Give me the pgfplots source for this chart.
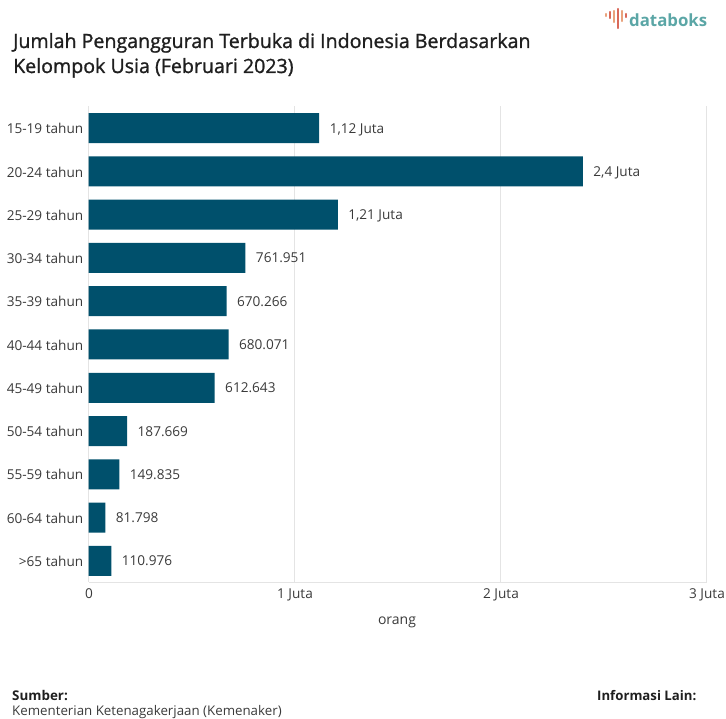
\documentclass[border=0pt]{standalone}
\usepackage{pgfplots}
\usepackage{pgfplotstable}
\usepackage{fontspec}
\pgfplotsset{compat=1.18}
\setmainfont{Open Sans}
\newfontfamily\headfont[FakeBold=1.2]{Open Sans}
\definecolor{barblue}{HTML}{00506C}
\definecolor{txtgray}{HTML}{3A3A3A}
\definecolor{gridgray}{HTML}{E4E4E4}
\definecolor{logoteal}{HTML}{5BA6A6}
\definecolor{logored}{HTML}{D9695A}
\definecolor{logoorange}{HTML}{E9A27C}

% Unemployed persons by age group, February 2023 (millions)
\pgfplotstableread[col sep=comma]{
idx,value,label
0,1.12,{1,12 Juta}
1,2.40,{2,4 Juta}
2,1.21,{1,21 Juta}
3,0.761951,761.951
4,0.670266,670.266
5,0.680071,680.071
6,0.612643,612.643
7,0.187669,187.669
8,0.149835,149.835
9,0.081798,81.798
10,0.110976,110.976
}\agegroups

\begin{document}
\begin{tikzpicture}[x=1pt,y=1pt]
\path[use as bounding box] (0,0) rectangle (726,719);

\begin{axis}[
  at={(88.5pt,136.5pt)}, anchor=south west,
  scale only axis, width=618pt, height=476pt,
  xmin=0, xmax=3,
  ymin=-0.5, ymax=10.5, y dir=reverse,
  xbar, bar width=30pt, bar shift=0pt,
  axis line style={draw=none},
  axis x line*=bottom,
  axis y line*=left,
  extra description/.code={\draw[gridgray,line width=0.8pt] (axis cs:0,10.5) -- (axis cs:3,10.5);},
  xmajorgrids, major grid style={gridgray,line width=0.8pt},
  tick style={draw=none},
  xtick={0,1,2,3},
  xticklabels={0,1 Juta,2 Juta,3 Juta},
  ytick={0,...,10},
  yticklabels={15-19 tahun,20-24 tahun,25-29 tahun,30-34 tahun,35-39 tahun,40-44 tahun,45-49 tahun,50-54 tahun,55-59 tahun,60-64 tahun,>65 tahun},
  tick label style={font=\fontsize{13.6}{16}\selectfont,text=txtgray},
  yticklabel style={xshift=2.5pt,yshift=-0.5pt},
  xticklabel style={yshift=-2.5pt,xshift=0.5pt},
  clip=false,
  nodes near coords,
  point meta=explicit symbolic,
  nodes near coords style={font=\fontsize{13.6}{16}\selectfont,text=txtgray,anchor=west,xshift=7pt,yshift=-1.5pt,text height=10pt,text depth=3pt},
]
\addplot[fill=barblue,draw=none] table[x=value,y=idx,meta=label,col sep=comma] {\agegroups};
\end{axis}

\node[anchor=base,font=\fontsize{14}{16}\selectfont,text=txtgray] at (397,94) {orang};

% Heading
\node[anchor=base west,inner sep=0pt,font=\headfont\fontsize{19.6}{22}\selectfont,text=black!88] at (13,671) {Jumlah Pengangguran Terbuka di Indonesia Berdasarkan};
\node[anchor=base west,inner sep=0pt,font=\headfont\fontsize{19.6}{22}\selectfont,text=black!88] at (13,646) {Kelompok Usia (Februari 2023)};

% Footer
\node[anchor=base west,inner sep=0pt,font=\fontsize{13.4}{15}\selectfont\bfseries,text=black!88] at (12,18) {Sumber:};
\node[anchor=base west,inner sep=0pt,font=\fontsize{13.3}{15}\selectfont,text=txtgray] at (12,3.4) {Kementerian Ketenagakerjaan (Kemenaker)};
\node[anchor=base west,inner sep=0pt,font=\fontsize{13.2}{15}\selectfont\bfseries,text=black!88] at (597,18) {Informasi Lain:};

% Logo
\foreach \px/\ya/\yb/\c in {606/705/703/logoorange,610/707/701/logored,614/708/697/logoorange,618/710/691/logored,622/708/698/logoorange,626/705/702/logored}
  \draw[\c,line width=2.2pt,line cap=round] (\px,\ya) -- (\px,\yb);
\node[anchor=base west,inner sep=0pt,font=\bfseries\fontsize{16.8}{22}\selectfont,text=logoteal] at (629,692.5) {databoks};
\end{tikzpicture}
\end{document}
